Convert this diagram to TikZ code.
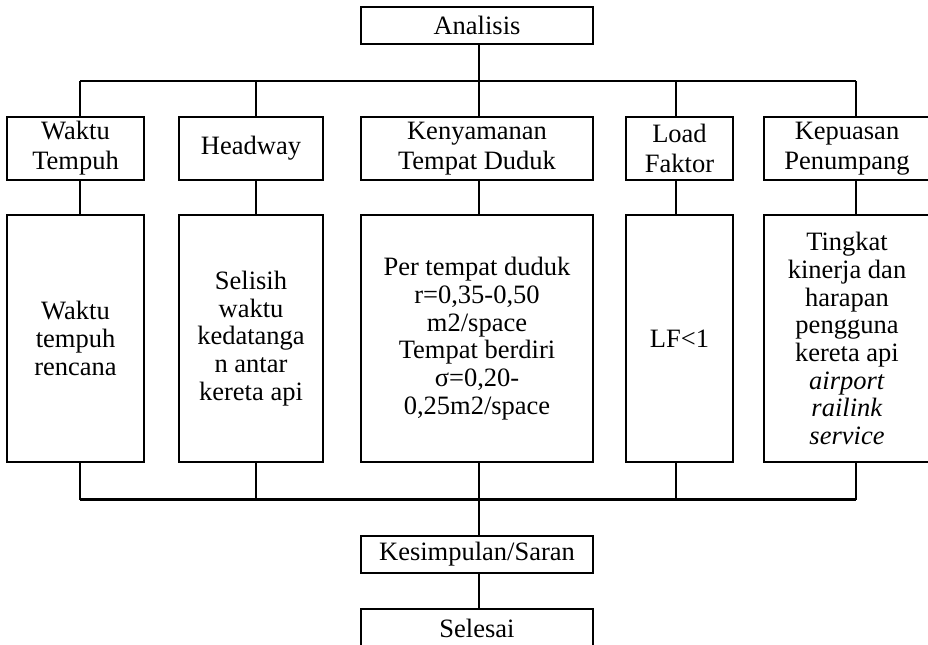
\documentclass[tikz,border=0pt]{standalone}
\usepackage{fontspec}
\setmainfont{Liberation Serif}
\usepackage{tikz}
\usetikzlibrary{calc}

\tikzset{
    blok/.style={draw, line width=1.1pt, align=center, inner sep=0pt,
        font={\fontsize{13.25}{13.85}\selectfont}},
    judul/.style={blok, font={\fontsize{13.25}{15}\selectfont}},
    lebar/.style={minimum width=#1*0.5pt},
    tinggi/.style={minimum height=#1*0.5pt}
}

\begin{document}
\begin{tikzpicture}[x=0.5pt, y=-0.5pt, line width=1.1pt]
    \useasboundingbox (0,0) rectangle (928,644);

    \node[blok, lebar=232, tinggi=37] (analisis) at (477,25.5) {Analisis};

    % baris pertama
    \node[judul, lebar=137, tinggi=63] (wt) at (75.5,148.5) {Waktu\\Tempuh};
    \node[judul, lebar=144, tinggi=63] (hw) at (251,148.5) {Headway};
    \node[judul, lebar=232, tinggi=63] (ken) at (477,148.5) {Kenyamanan\\Tempat Duduk};
    \node[judul, lebar=107, tinggi=63] (lf) at (679.5,148.5) {Load\\Faktor};
    \node[judul, lebar=166, tinggi=63] (kp) at (847,148.5) {Kepuasan\\Penumpang};

    % baris kedua
    \node[blok, lebar=137, tinggi=247] (wt2) at (75.5,338.5) {Waktu\\tempuh\\rencana};
    \node[blok, lebar=144, tinggi=247] (hw2) at (251,338.5) {Selisih\\waktu\\kedatanga\\n antar\\kereta api};
    \node[blok, lebar=232, tinggi=247] (ken2) at (477,338.5) {Per tempat duduk\\r=0,35-0,50\\m2/space\\Tempat berdiri\\σ=0,20-\\0,25m2/space};
    \node[blok, lebar=107, tinggi=247] (lf2) at (679.5,338.5) {LF<1};
    \node[blok, lebar=166, tinggi=247] (kp2) at (847,338.5) {Tingkat\\kinerja dan\\harapan\\pengguna\\kereta api\\\textit{airport}\\\textit{railink}\\\textit{service}};

    \node[blok, lebar=232, tinggi=37] (kesimpulan) at (477,554.5) {Kesimpulan/Saran};
    \node[blok, lebar=232, tinggi=38] (selesai) at (477,628) {Selesai};

    \foreach \i/\n/\x in {1/wt/80, 2/hw/256, 3/ken/479, 4/lf/676, 5/kp/856} {
        \coordinate (a\i) at (\x,81);
        \coordinate (b\i) at (\x,499.5);
        \draw (a\i) -- (a\i |- \n.north);
        \draw (\n.south -| a\i) -- (\n2.north -| a\i);
        \draw (\n2.south -| a\i) -- (b\i);
    }

    \draw (a1) -- (a5);
    \draw (b1) -- (b5);
    \draw (analisis.south -| a3) -- (a3);
    \draw (b3) -- (kesimpulan.north -| b3);
    \draw (kesimpulan.south -| b3) -- (selesai.north -| b3);

\end{tikzpicture}
\end{document}
